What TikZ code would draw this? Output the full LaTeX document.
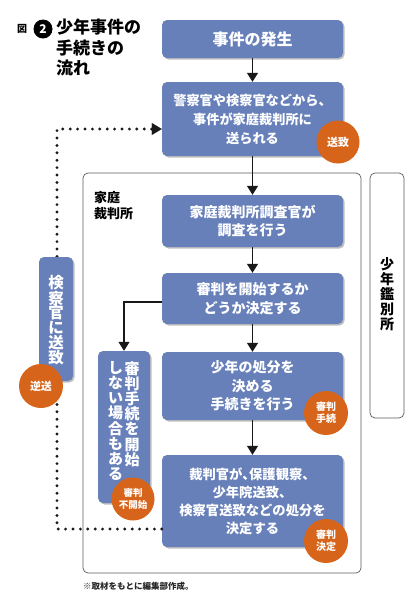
\documentclass[tikz,border=0pt]{standalone}
\usepackage{fontspec}
\setmainfont{Noto Sans CJK JP}
\usetikzlibrary{arrows.meta,shadows}
\definecolor{boxblue}{RGB}{104,128,186}
\definecolor{circorange}{RGB}{214,100,26}
\definecolor{framegray}{RGB}{90,90,90}
\begin{document}
\begin{tikzpicture}[x=1pt,y=-1pt,
  box/.style={fill=boxblue, rounded corners=5pt, text=white, align=center, inner sep=0pt,
    font=\fontsize{14}{18.5}\selectfont\bfseries,
    drop shadow={shadow xshift=1.5pt, shadow yshift=-1.5pt, opacity=0.25, fill=black}},
  vtext/.style={text=white, align=center, inner sep=0pt, anchor=north, font=\fontsize{15}{15.2}\selectfont\bfseries},
  circ/.style={circle, fill=circorange, text=white, minimum size=43pt, inner sep=0pt, align=center,
    font=\fontsize{10}{12}\selectfont\bfseries},
  arr/.style={-{Triangle[length=9pt,width=11pt]}, line width=1.4pt, draw=black!90},
  dotline/.style={line width=3.2pt, dash pattern=on 0pt off 7.4pt, line cap=round, draw=black!90},
  frame/.style={draw=framegray, line width=0.7pt, rounded corners=5pt}
]
\useasboundingbox (0,0) rectangle (420,600);

% title
\node[font=\fontsize{10}{12}\selectfont\bfseries, inner sep=0pt] (zu) at (22,29) {図};
\node[circle, fill=black, text=white, minimum size=19pt, inner sep=0pt, font=\fontsize{12}{12}\selectfont\bfseries] (num) at (43,29) {2};
\node[anchor=north west, inner sep=0pt, align=left, font=\fontsize{17}{20.5}\selectfont\bfseries] (title) at (56,19) {少年事件の\\手続きの\\流れ};

% frames
\draw[frame] (83,173) rectangle (361,573);
\draw[frame] (370,173) rectangle (404,418);
\node[anchor=north west, inner sep=0pt, align=left, font=\fontsize{13}{16}\selectfont\bfseries] (kateilabel) at (94,191) {家庭\\裁判所};
\node[inner sep=0pt, align=center, anchor=north, font=\fontsize{14}{15}\selectfont\bfseries] (kanbetsu) at (387,257) {少\\年\\鑑\\別\\所};

% dotted feedback line
\coordinate (dA) at (57,529);
\coordinate (dB) at (57,129);

% main boxes
\node[box, minimum width=181pt, minimum height=38pt, font=\fontsize{16}{18}\selectfont\bfseries] (b1) at (252.5,39) {事件の発生};
\node[box, minimum width=181pt, minimum height=74pt, font=\fontsize{13.2}{19}\selectfont\bfseries] (b2) at (252.5,119) {警察官や検察官などから、\\事件が家庭裁判所に\\送られる};
\node[box, minimum width=181pt, minimum height=52pt] (b3) at (252.5,221) {家庭裁判所調査官が\\調査を行う};
\node[box, minimum width=181pt, minimum height=51pt] (b4) at (252.5,298.5) {審判を開始するか\\どうか決定する};
\node[box, minimum width=181pt, minimum height=68pt] (b5) at (252.5,386) {少年の処分を\\決める\\手続きを行う};
\node[box, minimum width=181pt, minimum height=92pt, font=\fontsize{13.3}{18}\selectfont\bfseries] (b6) at (252.5,501) {裁判官が､保護観察、\\少年院送致、\\検察官送致などの処分を\\決定する};

% dotted path (behind the vertical box)
\draw[dotline] (b6.west |- dA) -- (dA) -- (dB) -- ([xshift=-10pt]b2.west |- dB);
\draw[-{Triangle[length=10pt,width=12pt]}, draw=black!90, line width=0.1pt] ([xshift=-10pt]b2.west |- dB) -- (b2.west |- dB);

% side boxes
\node[box, minimum width=34pt, minimum height=124pt] (ks) at (56,319) {};
\node[vtext, font=\fontsize{15.5}{14.7}\selectfont\bfseries] (kstext) at (56,275) {検\\察\\官\\に\\送\\致};
\node[box, minimum width=52pt, minimum height=152pt] (nk) at (124,427) {};
\node[vtext] (nkr) at (132,361) {審\\判\\手\\続\\を\\開\\始};
\node[vtext] (nkl) at (115.5,361) {し\\な\\い\\場\\合\\も\\あ\\る};

% arrows
\draw[arr] (b1) -- (b2);
\draw[arr] (b2) -- (b3);
\draw[arr] (b3) -- (b4);
\draw[arr] (b4) -- (b5);
\draw[arr] (b5) -- (b6);
\draw[arr] (b4.west |- 0,302) -| (nk.north);

% circles
\node[circ, font=\fontsize{11}{12}\selectfont\bfseries] (c1) at (338,142) {送致};
\node[circ, minimum size=44pt, font=\fontsize{11}{12}\selectfont\bfseries] (c2) at (41,386) {逆送};
\node[circ, minimum size=44pt] (c3) at (326,413) {審判\\手続};
\node[circ, minimum size=43pt, font=\fontsize{9.5}{11.5}\selectfont\bfseries] (c4) at (133,499) {審判\\不開始};
\node[circ, minimum size=44pt] (c5) at (326,541) {審判\\決定};

% footnote
\node[anchor=west, inner sep=0pt, font=\fontsize{8.5}{10}\selectfont\bfseries, text=black!85] (note) at (83,586) {※取材をもとに編集部作成。};
\end{tikzpicture}
\end{document}
